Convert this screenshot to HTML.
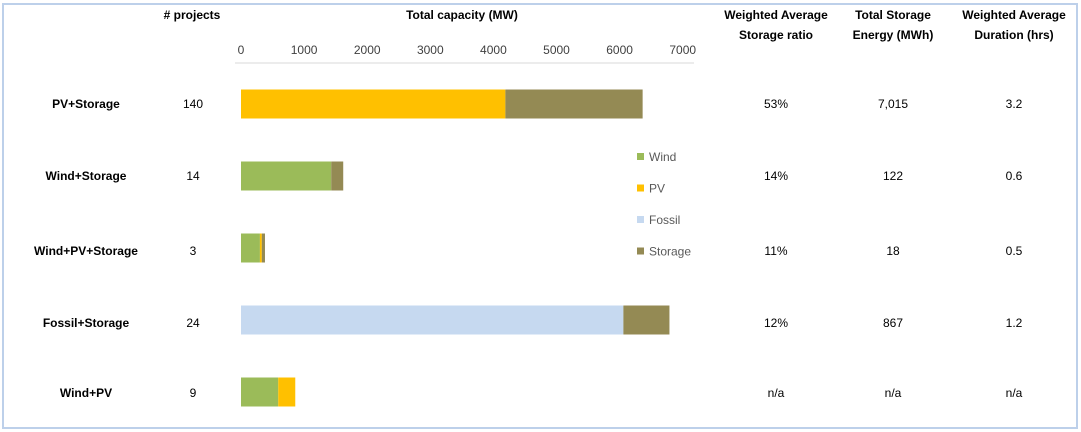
<!DOCTYPE html>
<html><head><meta charset="utf-8"><style>
body{margin:0;background:#fff;}
svg{display:block;font-family:"Liberation Sans",Arial,sans-serif;}
</style></head><body>
<svg width="1081" height="432">
<rect x="3" y="4" width="1074" height="424" fill="#fff" stroke="#bdd0ea" stroke-width="2"/>
<g font-size="12" font-weight="bold" fill="#000" text-anchor="middle">
<text x="192" y="19"># projects</text>
<text x="462" y="19">Total capacity (MW)</text>
<text x="776" y="19">Weighted Average</text>
<text x="776" y="39">Storage ratio</text>
<text x="893" y="19">Total Storage</text>
<text x="893" y="39">Energy (MWh)</text>
<text x="1014" y="19">Weighted Average</text>
<text x="1014" y="39">Duration (hrs)</text>
</g>
<line x1="235" y1="63" x2="694" y2="63" stroke="#d9d9d9" stroke-width="1"/>
<g id="ticks" font-size="12" fill="#404040" text-anchor="middle"></g>
<g id="rows"></g>
<g id="bars"></g>
<g id="legend" font-size="12" fill="#595959"></g>
</svg>
<script>
const categories=["PV+Storage","Wind+Storage","Wind+PV+Storage","Fossil+Storage","Wind+PV"];
const projects=["140","14","3","24","9"];
const wind=[0,1430,300,0,590];
const pv=[4190,0,30,0,270];
const fossil=[0,0,0,6060,0];
const storage=[2175,190,50,730,0];
const ratio=["53%","14%","11%","12%","n/a"];
const energy=["7,015","122","18","867","n/a"];
const duration=["3.2","0.6","0.5","1.2","n/a"];
const tickValues=[0,1000,2000,3000,4000,5000,6000,7000];
const seriesNames=["Wind","PV","Fossil","Storage"];
const seriesColors=["#9bbb59","#ffc000","#c6d9f0","#948a54"];
const NS="http://www.w3.org/2000/svg";
function xs(v){return 241+v*0.0631;}
function rowY(i){return [104,176,248,320,392][i];}
function textY(i){return [104,176,251,323,393][i];}
function mk(tag,attrs,parent,txt){const e=document.createElementNS(NS,tag);for(const k in attrs)e.setAttribute(k,attrs[k]);if(txt!==undefined)e.textContent=txt;parent.appendChild(e);return e;}
const tg=document.getElementById('ticks');
tickValues.forEach(t=>{
 const e=mk('text',{x:xs(t),y:54},tg,String(t));
 
 
});
const rg=document.getElementById('rows');
const bg=document.getElementById('bars');
const series=[wind,pv,fossil,storage];
categories.forEach((c,i)=>{
 const y=rowY(i);
 const ty=textY(i);
 const cols=[[86,c,'bold'],[193,projects[i],'normal'],[776,ratio[i],'normal'],[893,energy[i],'normal'],[1014,duration[i],'normal']];
 const names=['row-label','project-count','storage-ratio','storage-energy','duration'];
 cols.forEach((cc,j)=>{
  const e=mk('text',{x:cc[0],y:ty+4,'font-size':12,'font-weight':cc[2],'text-anchor':'middle',fill:'#000'},rg,cc[1]);
  
  
 });
 let acc=0;
 series.forEach((s,k)=>{
  const v=s[i]; if(v<=0) return;
  const r=mk('rect',{x:xs(acc),y:y-14.5,width:xs(acc+v)-xs(acc),height:29,fill:seriesColors[k]},bg);
  
  
  acc+=v;
 });
});
const lg=document.getElementById('legend');
seriesNames.forEach((n,k)=>{
 const y=157+k*31.5;
 const r=mk('rect',{x:637,y:y-4,width:7,height:7,fill:seriesColors[k]},lg);
 
 
 const t=mk('text',{x:649,y:y+4},lg,n);
 
 
});
</script>
</body></html>
